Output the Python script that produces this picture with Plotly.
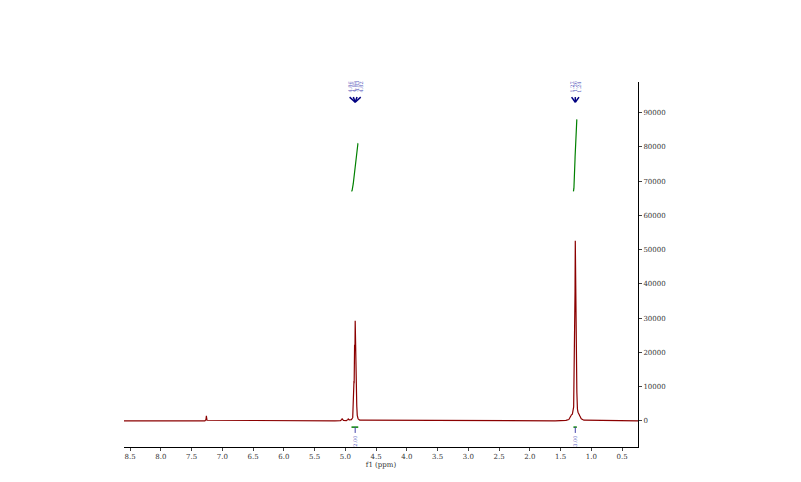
import numpy as np
import plotly.graph_objects as go

# peaks (ppm, height, half width)
peak_ppm = [7.26, 4.86, 4.85, 4.84, 4.83, 4.82, 5.05, 4.95, 1.27, 1.26, 1.25, 1.24, 1.20, 1.32]
peak_height = [1500, 8000, 17000, 24000, 17000, 8000, 600, 500, 22000, 43000, 22000, 9000, 1500, 1200]
peak_width = [0.004, 0.004, 0.004, 0.004, 0.004, 0.004, 0.01, 0.01, 0.005, 0.005, 0.005, 0.005, 0.02, 0.02]

label_groups = [["4.86", "4.85", "4.83", "4.82"], ["1.27", "1.26", "1.24"]]
label_pos = [4.84, 1.26]
integral_from = [4.90, 1.29]
integral_to = [4.79, 1.235]
integral_low = [67000, 67000]
integral_high = [81000, 88000]
integral_vals = ["2.00", "3.00"]

x_ticks = [8.5, 8.0, 7.5, 7.0, 6.5, 6.0, 5.5, 5.0, 4.5, 4.0, 3.5, 3.0, 2.5, 2.0, 1.5, 1.0, 0.5]
y_ticks = list(range(0, 90001, 10000))

x = np.linspace(0.24, 8.6, 12000)
y = np.zeros_like(x)
for p, h, w in zip(peak_ppm, peak_height, peak_width):
    y += h * w**2 / ((x - p) ** 2 + w**2)

fig = go.Figure()
fig.add_trace(go.Scatter(x=x, y=y, mode="lines", line=dict(color="#8b0000", width=1.2), showlegend=False))

font = dict(family="DejaVu Serif", size=7, color="#333")
for labels, pos, a, b, lo, hi, val in zip(label_groups, label_pos, integral_from, integral_to,
                                          integral_low, integral_high, integral_vals):
    # integral curve
    t = np.linspace(0, 1, 40)
    xi = a + (b - a) * t
    yi = lo + (hi - lo) * (1 - np.cos(np.pi * t)) / 2
    fig.add_trace(go.Scatter(x=xi, y=yi, mode="lines", line=dict(color="green", width=1.2), showlegend=False))
    # peak labels
    n = len(labels)
    for i, lab in enumerate(labels):
        xl = pos + (n - 1) / 2 * 0.06 - i * 0.06
        fig.add_annotation(x=xl, y=97500, text=lab, textangle=-90, showarrow=False,
                           font=dict(family="DejaVu Serif", size=5, color="#5555bb"), yanchor="middle")
        fig.add_shape(type="line", x0=xl, x1=pos, y0=94500, y1=93000, line=dict(color="#000080", width=1.5))
    # integral bracket
    fig.add_shape(type="line", x0=a, x1=b, y0=-1800, y1=-1800, line=dict(color="green", width=1.5))
    fig.add_shape(type="line", x0=pos, x1=pos, y0=-1800, y1=-3500, line=dict(color="#4444aa", width=1))
    fig.add_annotation(x=pos, y=-3800, text=val, textangle=-90, showarrow=False, yanchor="top",
                       font=dict(family="DejaVu Serif", size=5, color="#5555bb"))

fig.update_layout(
    width=801, height=482, paper_bgcolor="white", plot_bgcolor="white",
    margin=dict(l=116, r=171, t=74, b=43),
    xaxis=dict(range=[8.6, 0.24], tickvals=x_ticks, ticktext=[f"{v:.1f}" for v in x_ticks],
               showline=True, linecolor="black", ticks="outside", ticklen=3, tickfont=font,
               showgrid=False, zeroline=False, title=dict(text="f1 (ppm)", font=font, standoff=0)),
    yaxis=dict(range=[-7600, 98900], side="right", tickvals=y_ticks, tickformat="d", showline=True,
               linecolor="black", ticks="outside", ticklen=3, tickfont=font, showgrid=False, zeroline=False),
)
fig.write_html("out.html")
